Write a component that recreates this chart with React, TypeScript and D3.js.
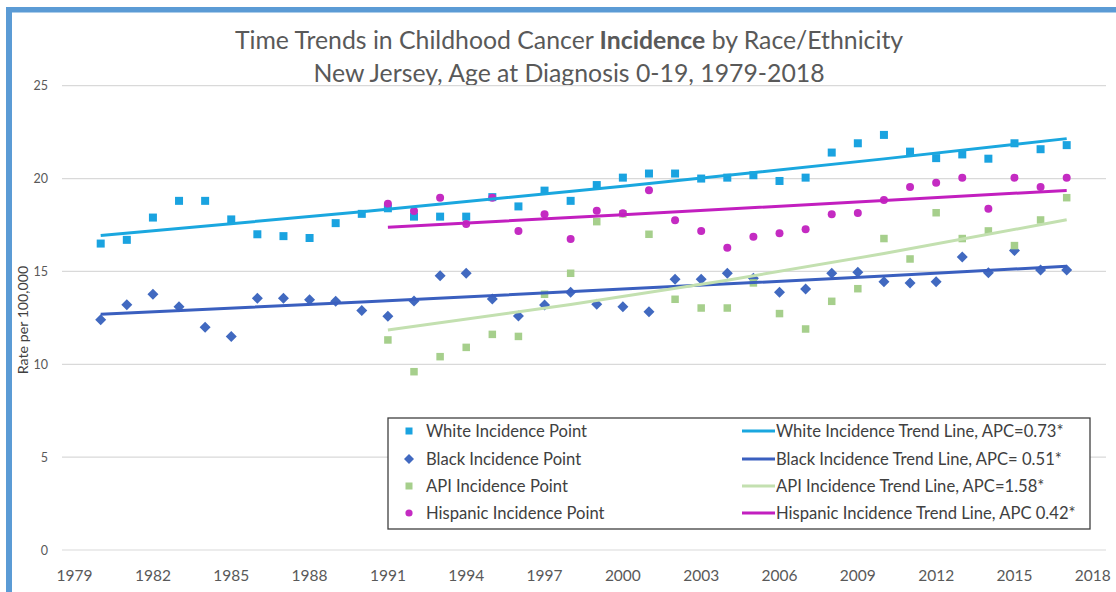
import React from "react";
import * as d3 from "d3";

const yearsAll = [1980,1981,1982,1983,1984,1985,1986,1987,1988,1989,1990,1991,1992,1993,1994,1995,1996,1997,1998,1999,2000,2001,2002,2003,2004,2005,2006,2007,2008,2009,2010,2011,2012,2013,2014,2015,2016,2017];
const years1991 = [1991,1992,1993,1994,1995,1996,1997,1998,1999,2000,2001,2002,2003,2004,2005,2006,2007,2008,2009,2010,2011,2012,2013,2014,2015,2016,2017];

const white = [16.5,16.7,17.9,18.8,18.8,17.8,17.0,16.9,16.8,17.6,18.1,18.4,17.95,17.95,17.95,19.0,18.5,19.35,18.8,19.65,20.05,20.27,20.27,20.0,20.05,20.18,19.87,20.05,21.4,21.9,22.35,21.45,21.1,21.3,21.07,21.9,21.58,21.8];
const black = [12.4,13.2,13.77,13.1,12.0,11.5,13.55,13.55,13.48,13.39,12.9,12.58,13.41,14.77,14.9,13.52,12.6,13.19,13.88,13.23,13.1,12.83,14.58,14.58,14.9,14.63,13.88,14.05,14.9,14.95,14.45,14.38,14.45,15.78,14.93,16.12,15.08,15.08];
const api = [11.31,9.6,10.41,10.91,11.61,11.5,13.77,14.9,17.68,18.1,17.0,13.5,13.03,13.03,14.38,12.73,11.9,13.39,14.07,16.77,15.67,18.16,16.77,17.18,16.39,17.77,18.97];
const hispanic = [18.65,18.26,18.97,17.55,18.97,17.18,18.08,16.75,18.27,18.13,19.37,17.75,17.18,16.28,16.87,17.05,17.27,18.08,18.15,18.85,19.55,19.78,20.05,18.38,20.05,19.55,20.05];

const whiteTrendYears = [1980,1990,2000,2010,2017];
const whiteTrend = [16.93,18.21,19.58,21.06,22.15];
const blackTrendYears = [1980,1990,2000,2010,2017];
const blackTrend = [12.7,13.35,14.05,14.75,15.28];
const apiTrendYears = [1991,1998,2004,2010,2017];
const apiTrend = [11.85,13.22,14.53,15.96,17.78];
const hispTrendYears = [1991,2000,2010,2017];
const hispTrend = [17.38,18.05,18.82,19.36];

const xTicks = [1979,1982,1985,1988,1991,1994,1997,2000,2003,2006,2009,2012,2015,2018];
const yTicks = [0,5,10,15,20,25];

const pointLabels = ["White Incidence Point","Black Incidence Point","API Incidence Point","Hispanic Incidence Point"];
const trendLabels = ["White Incidence Trend Line, APC=0.73*","Black Incidence Trend Line, APC= 0.51*","API Incidence Trend Line, APC=1.58*","Hispanic Incidence Trend Line, APC 0.42*"];

const C = {
  white: "#1aa3e0",
  whiteLine: "#1aa7df",
  black: "#4169c0",
  blackLine: "#3a5fbf",
  api: "#a6cf8c",
  apiLine: "#c3e0b0",
  hisp: "#c42bc2",
  hispLine: "#c21fbf",
};

const FONT = "Lato, 'Open Sans', sans-serif";

export default function App() {
  const W = 1116, H = 592;
  const x = d3.scaleLinear().domain([1979, 2018]).range([74.6, 1092.8]);
  const y = d3.scaleLinear().domain([0, 25]).range([550, 85.7]);
  const line = d3.line<[number, number]>().x(d => x(d[0])).y(d => y(d[1]));
  const mk = (ys: number[], vs: number[]) => ys.map((yr, i) => [yr, vs[i]] as [number, number]);

  const square = (cx: number, cy: number, s: number, fill: string, key: any) => (
    <rect key={key} x={cx - s / 2} y={cy - s / 2} width={s} height={s} fill={fill} />
  );
  const diamond = (cx: number, cy: number, r: number, fill: string, key: any) => (
    <path key={key} d={`M${cx},${cy - r}L${cx + r},${cy}L${cx},${cy + r}L${cx - r},${cy}Z`} fill={fill} />
  );
  const circle = (cx: number, cy: number, r: number, fill: string, key: any) => (
    <circle key={key} cx={cx} cy={cy} r={r} fill={fill} />
  );

  const legendRows = [431, 459, 486, 513];
  const pointMarkers = [
    (cx: number, cy: number) => square(cx, cy, 7, C.white, "lw"),
    (cx: number, cy: number) => diamond(cx, cy, 5, C.black, "lb"),
    (cx: number, cy: number) => square(cx, cy, 7, C.api, "la"),
    (cx: number, cy: number) => circle(cx, cy, 3.6, C.hisp, "lh"),
  ];
  const lineColors = [C.whiteLine, C.blackLine, C.apiLine, C.hispLine];

  return (
    <svg width={W} height={H} style={{ position: "absolute", left: 0, top: 0, background: "#fff" }} fontFamily={FONT}>
      <rect x={0} y={0} width={W} height={H} fill="#fff" />
      {/* frame */}
      <rect x={6} y={7} width={W - 6} height={5.5} fill="#5b9bd5" />
      <rect x={6} y={7} width={6} height={H - 7} fill="#5b9bd5" />

      {/* title */}
      <text x={569} y={49} textAnchor="middle" fontSize={24.8} fill="#595959">
        Time Trends in Childhood Cancer <tspan fontWeight="bold">Incidence</tspan> by Race/Ethnicity
      </text>
      <text x={569} y={82} textAnchor="middle" fontSize={24.8} fill="#595959">
        New Jersey, Age at Diagnosis 0-19, 1979-2018
      </text>

      {/* gridlines */}
      {yTicks.map(t => (
        <line key={"g" + t} x1={62} x2={1106} y1={y(t)} y2={y(t)} stroke="#d9d9d9" strokeWidth={1.2} />
      ))}
      {yTicks.map(t => (
        <text key={"yt" + t} x={48} y={y(t) + 4.5} textAnchor="end" fontSize={12.5} fill="#595959">{t}</text>
      ))}
      <text transform={`translate(28,320) rotate(-90)`} textAnchor="middle" fontSize={14.2} fill="#404040">Rate per 100,000</text>
      {xTicks.map(t => (
        <text key={"xt" + t} x={x(t)} y={581} textAnchor="middle" fontSize={15.5} fill="#595959">{t}</text>
      ))}

      {/* points */}
      {yearsAll.map((yr, i) => square(x(yr), y(white[i]), 8, C.white, "w" + yr))}
      {yearsAll.map((yr, i) => diamond(x(yr), y(black[i]), 5.5, C.black, "b" + yr))}
      {years1991.map((yr, i) => square(x(yr), y(api[i]), 7.5, C.api, "a" + yr))}
      {years1991.map((yr, i) => circle(x(yr), y(hispanic[i]), 4, C.hisp, "h" + yr))}

      {/* trend lines */}
      <path d={line(mk(whiteTrendYears, whiteTrend)) || ""} fill="none" stroke={C.whiteLine} strokeWidth={3} />
      <path d={line(mk(blackTrendYears, blackTrend)) || ""} fill="none" stroke={C.blackLine} strokeWidth={3} />
      <path d={line(mk(apiTrendYears, apiTrend)) || ""} fill="none" stroke={C.apiLine} strokeWidth={3} />
      <path d={line(mk(hispTrendYears, hispTrend)) || ""} fill="none" stroke={C.hispLine} strokeWidth={3} />

      {/* legend */}
      <rect x={388} y={418} width={702} height={111} fill="#fff" stroke="#404040" strokeWidth={1.3} />
      {pointLabels.map((lab, i) => (
        <g key={"lp" + i}>
          {pointMarkers[i](409, legendRows[i])}
          <text x={426} y={legendRows[i] + 5.5} fontSize={16.6} fill="#404040">{lab}</text>
        </g>
      ))}
      {trendLabels.map((lab, i) => (
        <g key={"lt" + i}>
          <line x1={742} x2={775} y1={legendRows[i]} y2={legendRows[i]} stroke={lineColors[i]} strokeWidth={3} />
          <text x={776} y={legendRows[i] + 5.5} fontSize={16.6} fill="#404040">{lab}</text>
        </g>
      ))}
    </svg>
  );
}
